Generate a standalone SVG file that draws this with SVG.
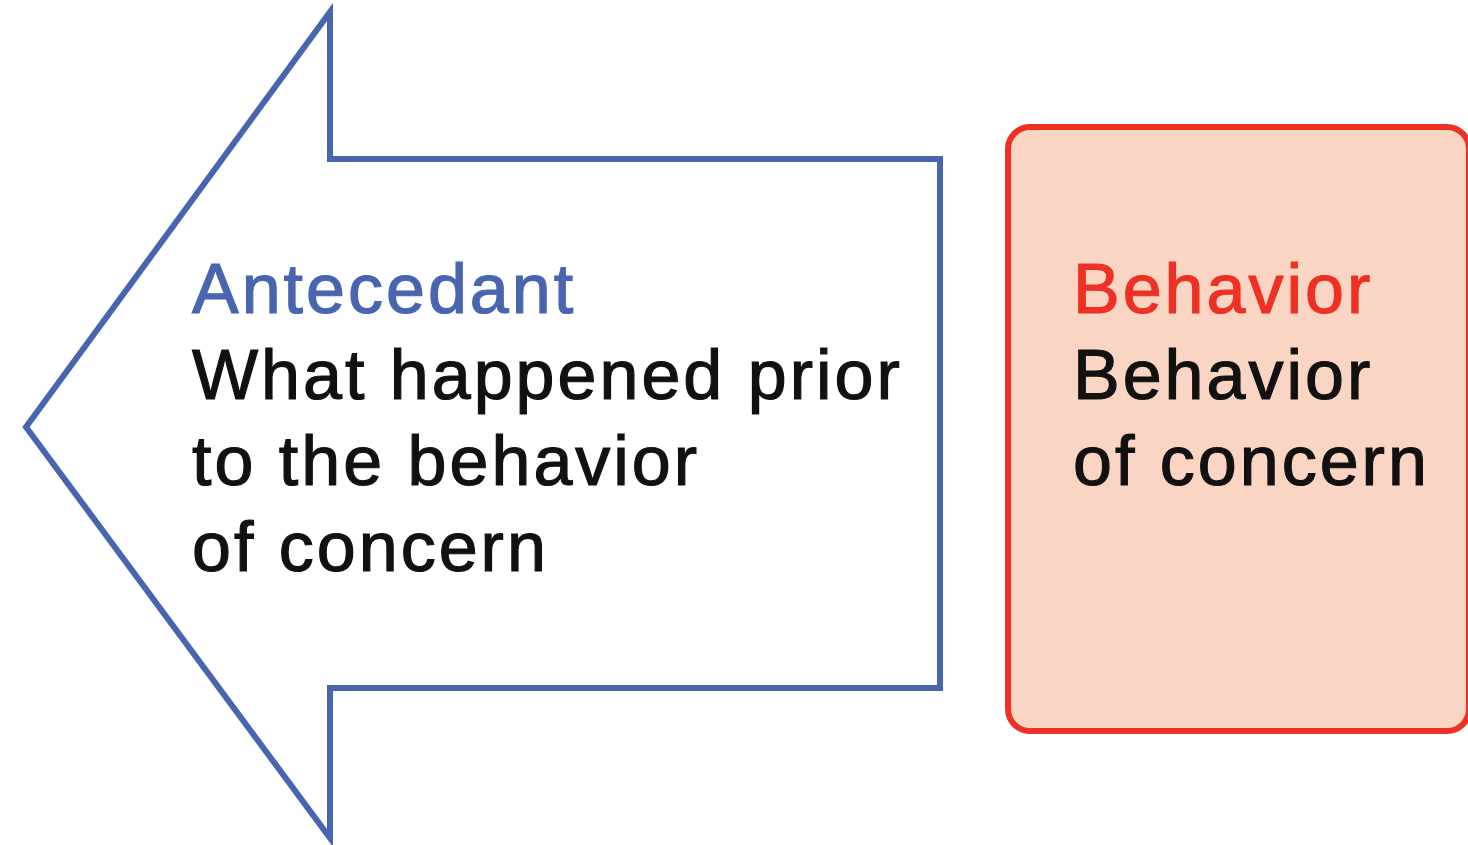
<svg xmlns="http://www.w3.org/2000/svg" width="1468" height="845" viewBox="0 0 1468 845">
  <style>
    .lbl { font-family: "Liberation Sans", Arial, sans-serif; font-size: 70px; letter-spacing: 3px; stroke-width: 1.2px; }
    .blue { fill: #4a65b0; stroke: #4a65b0; }
    .red { fill: #ee3124; stroke: #ee3124; }
    .dark { fill: #111111; stroke: #111111; }
  </style>
  <rect width="1468" height="845" fill="#ffffff"/>
  <g id="antecedant">
    <polygon points="26,427 330,12 330,159 940,159 940,688 330,688 330,838" fill="#ffffff" stroke="#4a65b0" stroke-width="6" stroke-linejoin="miter"/>
    <text class="lbl blue" x="192" y="313">Antecedant</text>
    <text class="lbl dark" x="192" y="399">What happened prior</text>
    <text class="lbl dark" x="192" y="485">to the behavior</text>
    <text class="lbl dark" x="192" y="571">of concern</text>
  </g>
  <g id="behavior">
    <rect x="1008" y="127" width="461" height="604" rx="22" ry="22" fill="#fad5c3" stroke="#ee3124" stroke-width="6"/>
    <text class="lbl red" x="1073" y="313">Behavior</text>
    <text class="lbl dark" x="1073" y="399">Behavior</text>
    <text class="lbl dark" x="1073" y="485">of concern</text>
  </g>
</svg>
